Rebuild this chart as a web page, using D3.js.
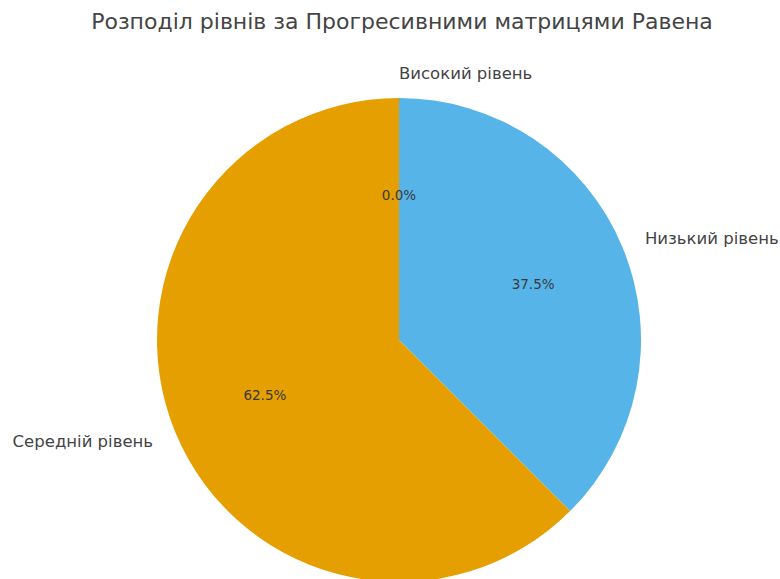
<!DOCTYPE html>
<html>
<head>
<meta charset="utf-8">
<script src="https://cdn.jsdelivr.net/npm/d3@7"></script>
<style>
  html, body { margin: 0; padding: 0; background: #ffffff; }
  svg { display: block; }
</style>
</head>
<body>
<svg id="chart" width="780" height="579"></svg>
<script>
// Raven's Progressive Matrices: share of students by level
const categories = ["Високий рівень", "Низький рівень", "Середній рівень"];
const values = [0, 3, 5];
const colors = ["#56B4E9", "#56B4E9", "#E69F00"];
const titleText = "Розподіл рівнів за Прогресивними матрицями Равена";

const width = 780, height = 579;
const cx = 399, cy = 340, radius = 242;

const svg = d3.select("#chart");

svg.append("text")
  .attr("x", 402)
  .attr("y", 29)
  .attr("text-anchor", "middle")
  .attr("font-family", "DejaVu Sans, sans-serif")
  .attr("font-size", 22)
  .attr("fill", "#444")
  .text(titleText);

const data = categories.map((c, i) => ({ label: c, value: values[i], color: colors[i] }));
const total = d3.sum(values);

// Clockwise from 12 o'clock, in the given order
const pie = d3.pie().value(d => d.value).sort(null).startAngle(0).endAngle(2 * Math.PI);
const arcs = pie(data);

const arc = d3.arc().innerRadius(0).outerRadius(radius);

const g = svg.append("g").attr("transform", `translate(${cx},${cy})`);

g.selectAll("path.slice")
  .data(arcs)
  .join("path")
  .attr("class", "slice")
  .attr("d", arc)
  .attr("fill", d => d.data.color);

const fmt = d3.format(".1f");
const mid = d => (d.startAngle + d.endAngle) / 2;

// percentage labels at 0.6 r
g.selectAll("text.pct")
  .data(arcs)
  .join("text")
  .attr("class", "pct")
  .attr("x", d => 0.6 * radius * Math.sin(mid(d)))
  .attr("y", d => -0.6 * radius * Math.cos(mid(d)))
  .attr("dy", "0.35em")
  .attr("text-anchor", "middle")
  .attr("font-family", "DejaVu Sans, sans-serif")
  .attr("font-size", 13.5)
  .attr("fill", "#3a3a3a")
  .text(d => fmt(d.data.value / total * 100) + "%");

// category labels at 1.1 r
g.selectAll("text.lbl")
  .data(arcs)
  .join("text")
  .attr("class", "lbl")
  .attr("x", d => 1.1 * radius * Math.sin(mid(d)))
  .attr("y", d => -1.1 * radius * Math.cos(mid(d)))
  .attr("dy", "0.33em")
  .attr("text-anchor", d => Math.sin(mid(d)) >= 0 ? "start" : "end")
  .attr("font-family", "DejaVu Sans, sans-serif")
  .attr("font-size", 16.5)
  .attr("fill", "#444")
  .text(d => d.data.label);
</script>
</body>
</html>
